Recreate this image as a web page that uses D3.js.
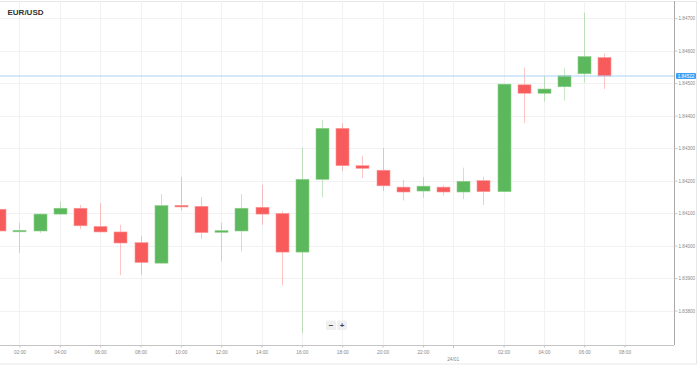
<!DOCTYPE html>
<html><head><meta charset="utf-8">
<script src="https://cdn.jsdelivr.net/npm/d3@7"></script>
<style>html,body{margin:0;padding:0;background:#fff;overflow:hidden}svg{display:block;font-family:"Liberation Sans",Arial,sans-serif}</style>
</head><body><svg id="c" width="699" height="365"></svg>
<script>
const times = ["2021-01-23T01:00","2021-01-23T02:00","2021-01-23T03:00","2021-01-23T04:00","2021-01-23T05:00","2021-01-23T06:00","2021-01-23T07:00","2021-01-23T08:00","2021-01-23T09:00","2021-01-23T10:00","2021-01-23T11:00","2021-01-23T12:00","2021-01-23T13:00","2021-01-23T14:00","2021-01-23T15:00","2021-01-23T16:00","2021-01-23T17:00","2021-01-23T18:00","2021-01-23T19:00","2021-01-23T20:00","2021-01-23T21:00","2021-01-23T22:00","2021-01-23T23:00","2021-01-24T00:00","2021-01-24T01:00","2021-01-24T02:00","2021-01-24T03:00","2021-01-24T04:00","2021-01-24T05:00","2021-01-24T06:00","2021-01-24T07:00"];
const open  = [1.84112,1.84045,1.84045,1.84097,1.84115,1.84059,1.84042,1.84009,1.83946,1.84124,1.84121,1.84041,1.84045,1.84118,1.84099,1.83980,1.84204,1.84361,1.84246,1.84232,1.84180,1.84168,1.84180,1.84165,1.84200,1.84166,1.84495,1.84469,1.84489,1.84529,1.84579];
const high  = [1.84166,1.84071,1.84099,1.84136,1.84125,1.84131,1.84064,1.84030,1.84158,1.84212,1.84149,1.84071,1.84158,1.84187,1.84105,1.84302,1.84387,1.84377,1.84277,1.84300,1.84202,1.84211,1.84186,1.84240,1.84212,1.84498,1.84548,1.84522,1.84546,1.84717,1.84592];
const low   = [1.84028,1.83977,1.84039,1.84095,1.84051,1.84040,1.83909,1.83910,1.83945,1.84108,1.84020,1.83951,1.83982,1.84064,1.83877,1.83730,1.84148,1.84230,1.84208,1.84168,1.84139,1.84147,1.84154,1.84143,1.84125,1.84166,1.84377,1.84443,1.84446,1.84502,1.84482];
const close = [1.84045,1.84047,1.84097,1.84115,1.84061,1.84042,1.84008,1.83948,1.84123,1.84119,1.84040,1.84046,1.84115,1.84097,1.83980,1.84204,1.84361,1.84246,1.84238,1.84184,1.84165,1.84183,1.84165,1.84198,1.84166,1.84497,1.84469,1.84482,1.84523,1.84582,1.84522];
const yTicks = [1.838,1.839,1.840,1.841,1.842,1.843,1.844,1.845,1.846,1.847];
const xTickTimes = ["2021-01-23T02:00","2021-01-23T04:00","2021-01-23T06:00","2021-01-23T08:00","2021-01-23T10:00","2021-01-23T12:00","2021-01-23T14:00","2021-01-23T16:00","2021-01-23T18:00","2021-01-23T20:00","2021-01-23T22:00","2021-01-24T02:00","2021-01-24T04:00","2021-01-24T06:00","2021-01-24T08:00"];
const xTickLabels = ["02:00","04:00","06:00","08:00","10:00","12:00","14:00","16:00","18:00","20:00","22:00","02:00","04:00","06:00","08:00"];
const dateTickTime = "2021-01-23T23:30";
const dateTickLabel = "24/01";
const title = "EUR/USD";
const lastPrice = 1.84522;
const lastPriceLabel = "1.84522";

const parse = d3.isoParse;
const svg = d3.select("#c");
const L = 0, R = 674, T = 1, B = 345;
const x = d3.scaleTime().domain([new Date(2021,0,23,1,2), new Date(2021,0,24,10,27)]).range([L, R]);
const y = d3.scaleLinear().domain([1.83694, 1.84753]).range([B, T]);
const tx = s => { const d = parse(s); return x(new Date(d.getFullYear(), d.getMonth(), d.getDate(), d.getHours(), d.getMinutes())); };

// outer frame
svg.append("rect").attr("x", -1).attr("y", 1.5).attr("width", 697.5).attr("height", 362.5)
  .attr("fill", "none").attr("stroke", "#e8e8e8");

// grid
const g = svg.append("g");
g.selectAll(".hg").data(yTicks).join("line")
  .attr("x1", L).attr("x2", R).attr("y1", d => Math.round(y(d)) + 0.5).attr("y2", d => Math.round(y(d)) + 0.5)
  .attr("stroke", "#f2f2f2");
g.selectAll(".vg").data(xTickTimes.concat([dateTickTime])).join("line")
  .attr("y1", T).attr("y2", B).attr("x1", d => Math.round(tx(d)) + 0.5).attr("x2", d => Math.round(tx(d)) + 0.5)
  .attr("stroke", "#f2f2f2");

// clip
svg.append("clipPath").attr("id", "clip").append("rect").attr("x", L).attr("y", T).attr("width", R - L).attr("height", B - T);
const cg = svg.append("g").attr("clip-path", "url(#clip)");

const data = times.map((t, i) => ({ t, o: open[i], h: high[i], l: low[i], c: close[i] }));
const up = d => d.c >= d.o;
const green = "#5cb85c", red = "#f75b5b";
const bw = 13;

cg.selectAll(".wick").data(data).join("line")
  .attr("x1", d => Math.round(tx(d.t)) + 0.5).attr("x2", d => Math.round(tx(d.t)) + 0.5)
  .attr("y1", d => y(d.h)).attr("y2", d => y(d.l))
  .attr("stroke", d => up(d) ? green : red).attr("stroke-opacity", 0.35).attr("stroke-width", 1);

cg.selectAll(".body").data(data).join("rect")
  .attr("x", d => Math.round(tx(d.t)) - bw / 2 + 0.5).attr("width", bw)
  .attr("y", d => y(Math.max(d.o, d.c)))
  .attr("height", d => Math.max(1.5, Math.abs(y(d.o) - y(d.c))))
  .attr("fill", d => up(d) ? green : red)
  .attr("stroke", d => up(d) ? "#8fd08a" : "#fa9a9a").attr("stroke-width", 0.6);

// last price line
svg.append("line").attr("x1", L).attr("x2", R).attr("y1", y(lastPrice)).attr("y2", y(lastPrice))
  .attr("stroke", "#a9d3f5").attr("stroke-width", 1);

// right axis
const ya = svg.append("g").attr("transform", `translate(${R + 0.5},0)`)
  .call(d3.axisRight(y).tickValues(yTicks).tickFormat(d3.format(".5f")).tickSize(3).tickPadding(1));
ya.select(".domain").attr("d", `M0,${T}V${B}`).attr("stroke", "#a8a8a8");
ya.selectAll(".tick line").attr("stroke", "#c8c8c8");
ya.selectAll("text").attr("font-size", 4.6).attr("fill", "#888").attr("font-family", "Liberation Sans, Arial, sans-serif");

// price label
const pl = svg.append("g").attr("transform", `translate(${R + 2},${y(lastPrice)})`);
pl.append("rect").attr("x", 0).attr("y", -3).attr("width", 20).attr("height", 6).attr("rx", 1).attr("fill", "#3d9ff2");
pl.append("text").attr("x", 10).attr("y", 1.6).attr("text-anchor", "middle").attr("font-size", 4.6).attr("fill", "#fff").text(lastPriceLabel);

// bottom axis
const xa = svg.append("g").attr("transform", `translate(0,${B + 0.5})`)
  .call(d3.axisBottom(x).tickValues(xTickTimes.map(s => { const d = parse(s); return new Date(d.getFullYear(), d.getMonth(), d.getDate(), d.getHours()); }))
    .tickFormat((d, i) => xTickLabels[i]).tickSize(2).tickPadding(3));
xa.select(".domain").attr("d", `M${L},0H${R}`).attr("stroke", "#c4c4c4");
xa.selectAll(".tick line").attr("stroke", "#c4c4c4");
xa.selectAll("text").attr("font-size", 4.8).attr("fill", "#888").attr("font-family", "Liberation Sans, Arial, sans-serif");

const dt = tx(dateTickTime);
svg.append("line").attr("x1", Math.round(dt) + 0.5).attr("x2", Math.round(dt) + 0.5).attr("y1", B).attr("y2", B + 3).attr("stroke", "#c4c4c4");
svg.append("text").attr("x", dt).attr("y", 360.5).attr("text-anchor", "middle").attr("font-size", 4.8).attr("fill", "#888").text(dateTickLabel);

// title
svg.append("text").attr("x", 7.5).attr("y", 15).attr("font-size", 8).attr("font-weight", "bold").attr("fill", "#333").text(title);

// zoom buttons
const zb = svg.append("g");
[["\u2212", 326], ["+", 337]].forEach(([s, bx]) => {
  zb.append("rect").attr("x", bx).attr("y", 320.5).attr("width", 10).attr("height", 9.5).attr("fill", "#f0f0f0").attr("rx", 1);
  zb.append("text").attr("x", bx + 5).attr("y", 328).attr("text-anchor", "middle").attr("font-size", 8).attr("font-weight", "bold").attr("fill", "#444").text(s);
});
</script></body></html>
